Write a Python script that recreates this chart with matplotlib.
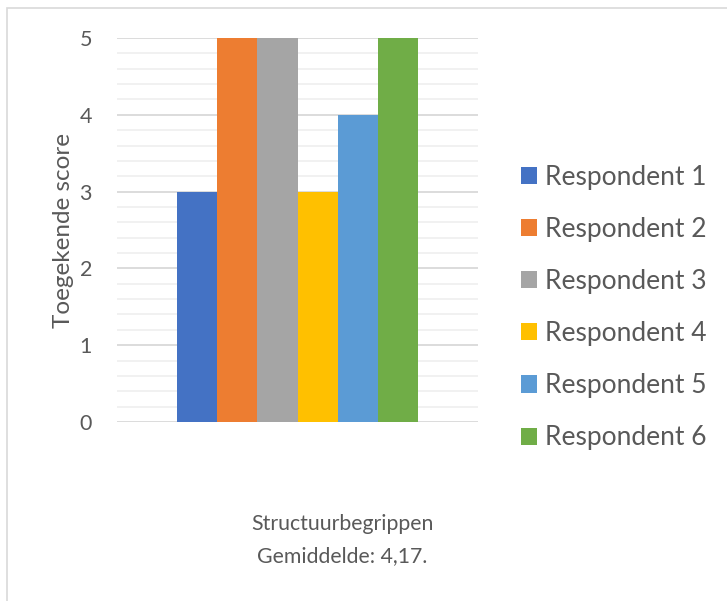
import matplotlib.pyplot as plt
from matplotlib.patches import Patch, Rectangle
from matplotlib.ticker import MultipleLocator

# Scores per respondent for the single category
respondents = ["Respondent 1", "Respondent 2", "Respondent 3",
               "Respondent 4", "Respondent 5", "Respondent 6"]
scores = [3, 5, 5, 3, 4, 5]
colors = ["#4472C4", "#ED7D31", "#A5A5A5", "#FFC000", "#5B9BD5", "#70AD47"]
category_lines = ["Structuurbegrippen", "Gemiddelde: 4,17."]

W, H = 727, 601
text_color = "#595959"
plt.rcParams["font.family"] = ["Lato", "DejaVu Sans"]

fig = plt.figure(figsize=(W / 100, H / 100), dpi=100)

# chart frame (cropped on the right and bottom)
fig.patches.append(Rectangle((7 / W, -0.1), 1.2, 1 - 8 / H + 0.1,
                             transform=fig.transFigure, fill=False,
                             edgecolor="#d9d9d9", linewidth=1.2))

ax = fig.add_axes([117 / W, (H - 422) / H, 361 / W, 384 / H])

# one category, gap width 50%
n = len(scores)
group = 1 / 1.5
w = group / n
for i, (lab, val, c) in enumerate(zip(respondents, scores, colors)):
    x = -group / 2 + w * (i + 0.5)
    ax.bar(x, val, width=w, color=c, label=lab, zorder=3)

ax.set_xlim(-0.5, 0.5)
ax.set_ylim(0, 5)
ax.yaxis.set_major_locator(MultipleLocator(1))
ax.yaxis.set_minor_locator(MultipleLocator(0.2))
ax.grid(axis="y", which="major", color="#d9d9d9", linewidth=1.3, zorder=1)
ax.grid(axis="y", which="minor", color="#f0f0f0", linewidth=1.3, zorder=0)
ax.set_xticks([])
ax.tick_params(axis="y", which="both", length=0, labelsize=15.5,
               labelcolor=text_color, pad=18)
for s in ax.spines.values():
    s.set_visible(False)
ax.set_ylabel("Toegekende score", fontsize=17.5, color=text_color, labelpad=4)

for k, line in enumerate(category_lines):
    fig.text(342 / W, 1 - (524 + 32 * k) / H, line, ha="center", va="center",
             fontsize=15.3, color=text_color)

handles = [Patch(facecolor=c, edgecolor="none") for c in colors]
fig.legend(handles, respondents, loc="center left",
           bbox_to_anchor=(521 / W, 1 - 307.5 / H), frameon=False,
           fontsize=19, labelcolor=text_color, borderpad=0, borderaxespad=0,
           handlelength=0.62, handleheight=0.62, handletextpad=0.3,
           labelspacing=1.03)

fig.savefig("out.png", dpi=100, facecolor="white")
